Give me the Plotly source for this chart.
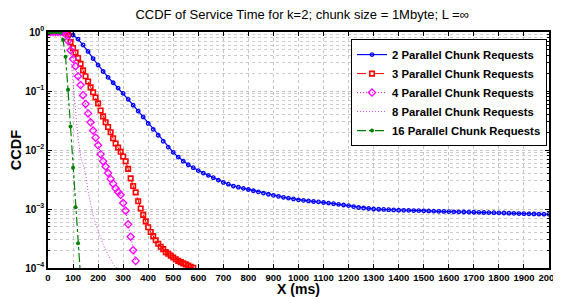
import plotly.graph_objects as go

# ---- data ----
x_2 = list(range(0, 2001, 20))
ccdf_2 = [1.0, 1.0, 1.0, 0.993, 0.966, 0.891, 0.759, 0.603, 0.468, 0.355,
          0.275, 0.214, 0.170, 0.138, 0.112, 0.0912, 0.0724, 0.0575, 0.0457, 0.0363,
          0.0282, 0.0224, 0.0178, 0.0141, 0.0112, 0.00912, 0.00759, 0.00646, 0.00562, 0.00501,
          0.00447, 0.00407, 0.00372, 0.00339, 0.00309, 0.00282, 0.00263, 0.00245, 0.00234, 0.00224,
          0.00214, 0.00204, 0.00195, 0.00186, 0.00178, 0.00170, 0.00164, 0.00158, 0.00153, 0.00148,
          0.00143, 0.00140, 0.00137, 0.00134, 0.00132, 0.00129, 0.00126, 0.00123, 0.00120, 0.00117,
          0.00114, 0.00110, 0.00106, 0.00104, 0.00102, 0.00100, 0.000991, 0.000982, 0.000973, 0.000964,
          0.000955, 0.000951, 0.000946, 0.000942, 0.000938, 0.000933, 0.000927, 0.000920, 0.000914, 0.000908,
          0.000902, 0.000897, 0.000893, 0.000889, 0.000885, 0.000881, 0.000877, 0.000873, 0.000869, 0.000865,
          0.000861, 0.000855, 0.000849, 0.000843, 0.000837, 0.000832, 0.000828, 0.000824, 0.000820, 0.000817,
          0.000813]

x_3 = list(range(0, 581, 10))
ccdf_3 = [1.0, 1.0, 1.0, 1.0, 1.0, 1.0, 1.0, 0.988, 0.891, 0.676,
          0.537, 0.447, 0.363, 0.288, 0.224, 0.178, 0.145, 0.115, 0.0955, 0.0776,
          0.0617, 0.0468, 0.0372, 0.0295, 0.0245, 0.0200, 0.0158, 0.0129, 0.0110, 0.00933,
          0.00776, 0.00646, 0.00479, 0.00331, 0.00245, 0.00191, 0.00135, 0.00102, 0.000794, 0.000617,
          0.000490, 0.000407, 0.000347, 0.000295, 0.000257, 0.000229, 0.000209, 0.000186, 0.000174, 0.000162,
          0.000151, 0.000141, 0.000132, 0.000126, 0.000120, 0.000115, 0.000110, 0.000105, 0.000101]

x_4 = list(range(0, 351, 10))
ccdf_4 = [1.0, 1.0, 1.0, 1.0, 1.0, 1.0, 1.0, 0.912, 0.708, 0.490,
          0.347, 0.263, 0.178, 0.126, 0.0851, 0.0603, 0.0417, 0.0295, 0.0214, 0.0162,
          0.0120, 0.00851, 0.00646, 0.00525, 0.00407, 0.00324, 0.00269, 0.00224, 0.00195, 0.00174,
          0.00126, 0.000933, 0.000550, 0.000339, 0.000200, 0.000132]

x_8 = list(range(0, 281, 10))
ccdf_8 = [1.0, 1.0, 1.0, 1.0, 1.0, 1.0, 0.955, 0.832, 0.661, 0.447,
          0.141, 0.0447, 0.0158, 0.00794, 0.00562, 0.00398, 0.00200, 0.00120, 0.000794, 0.000562,
          0.000417, 0.000316, 0.000251, 0.000200, 0.000166, 0.000138, 0.000117, 0.000105, 0.0000933]

x_16 = list(range(0, 131, 10))
ccdf_16 = [1.0, 1.0, 1.0, 1.0, 1.0, 0.977, 0.741, 0.380, 0.105, 0.0251,
           0.00501, 0.00107, 0.000263, 0.0000708]

names = ["2 Parallel Chunk Requests", "3 Parallel Chunk Requests",
         "4 Parallel Chunk Requests", "8 Parallel Chunk Requests",
         "16 Parallel Chunk Requests"]

x_ticks = list(range(0, 2001, 100))
y_ticks = [1e-4, 1e-3, 1e-2, 1e-1, 1]
y_tick_text = ["<b>10<sup>−4</sup></b>", "<b>10<sup>−3</sup></b>", "<b>10<sup>−2</sup></b>",
               "<b>10<sup>−1</sup></b>", "<b>10<sup>0</sup></b>"]

FONT = "Liberation Sans, Arial, sans-serif"

fig = go.Figure()
fig.add_trace(go.Scatter(x=x_2, y=ccdf_2, name=names[0], mode="lines+markers",
                         line=dict(color="#0000ff", width=1.2),
                         marker=dict(symbol="circle-open", size=3.5, color="#0000ff",
                                     line=dict(width=1.3, color="#0000ff"))))
fig.add_trace(go.Scatter(x=x_3, y=ccdf_3, name=names[1], mode="lines+markers",
                         line=dict(color="#ff0000", width=1, dash="dash"),
                         marker=dict(symbol="square-open", size=4.5, color="#ff0000",
                                     line=dict(width=1.6, color="#ff0000"))))
fig.add_trace(go.Scatter(x=x_4, y=ccdf_4, name=names[2], mode="lines+markers",
                         line=dict(color="#ff00ff", width=1, dash="1px,2px"),
                         marker=dict(symbol="diamond-open", size=5.5, color="#ff00ff",
                                     line=dict(width=1.3, color="#ff00ff"))))
fig.add_trace(go.Scatter(x=x_8, y=ccdf_8, name=names[3], mode="lines",
                         line=dict(color="#cc44dd", width=1, dash="1px,2px")))
fig.add_trace(go.Scatter(x=x_16, y=ccdf_16, name=names[4], mode="lines+markers",
                         line=dict(color="#008000", width=1.2, dash="dashdot"),
                         marker=dict(symbol="circle", size=4, color="#008000")))

minor_y = [m * 10 ** e for e in range(-4, 0) for m in range(2, 10)]

# the page body has an 8px default margin, so the figure is sized to the remaining space
fig.update_layout(
    width=553, height=289,
    margin=dict(l=40, r=12, t=24, b=29, autoexpand=False),
    paper_bgcolor="white", plot_bgcolor="white",
    font=dict(family=FONT, color="black"),
    title=dict(text="CCDF of Service Time for k=2; chunk size = 1Mbyte; L =∞",
               x=0.532, xanchor="center", y=0.978, yanchor="middle",
               font=dict(size=13, family=FONT, color="black")),
    showlegend=True,
    legend=dict(x=0.996, xanchor="right", y=0.97, yanchor="top",
                bgcolor="white", bordercolor="black", borderwidth=1,
                font=dict(size=11.3, family=FONT, color="black", weight="bold"),
                itemwidth=30, tracegroupgap=0),
)
fig.update_xaxes(range=[0, 2000], tickvals=x_ticks, ticktext=["<b>%d</b>" % v for v in x_ticks],
                 automargin=True,
                 showline=True, linecolor="black", linewidth=1.5, mirror="allticks",
                 ticks="inside", ticklen=4, tickcolor="black",
                 showgrid=True, gridcolor="#c4c4c4", griddash="dot", gridwidth=1,
                 zeroline=False,
                 tickfont=dict(size=9.5, family=FONT, color="black"),
                 title=dict(text="<b>X (ms)</b>", standoff=3,
                            font=dict(size=14, family=FONT, color="black")))
fig.update_yaxes(type="log", range=[-4, 0], tickvals=y_ticks, ticktext=y_tick_text,
                 automargin=False,
                 showline=True, linecolor="black", linewidth=1.5, mirror="allticks",
                 ticks="inside", ticklen=4, tickcolor="black",
                 showgrid=True, gridcolor="#c4c4c4", griddash="dot", gridwidth=1,
                 zeroline=False,
                 minor=dict(tickvals=minor_y, ticks="inside", ticklen=2, tickcolor="black",
                            showgrid=True, gridcolor="#cccccc", griddash="dot", gridwidth=1),
                 tickfont=dict(size=10, family=FONT, color="black"),
                 title=dict(text="<b>CCDF</b>", standoff=6,
                            font=dict(size=14.5, family=FONT, color="black")))

fig.write_html("out.html")
